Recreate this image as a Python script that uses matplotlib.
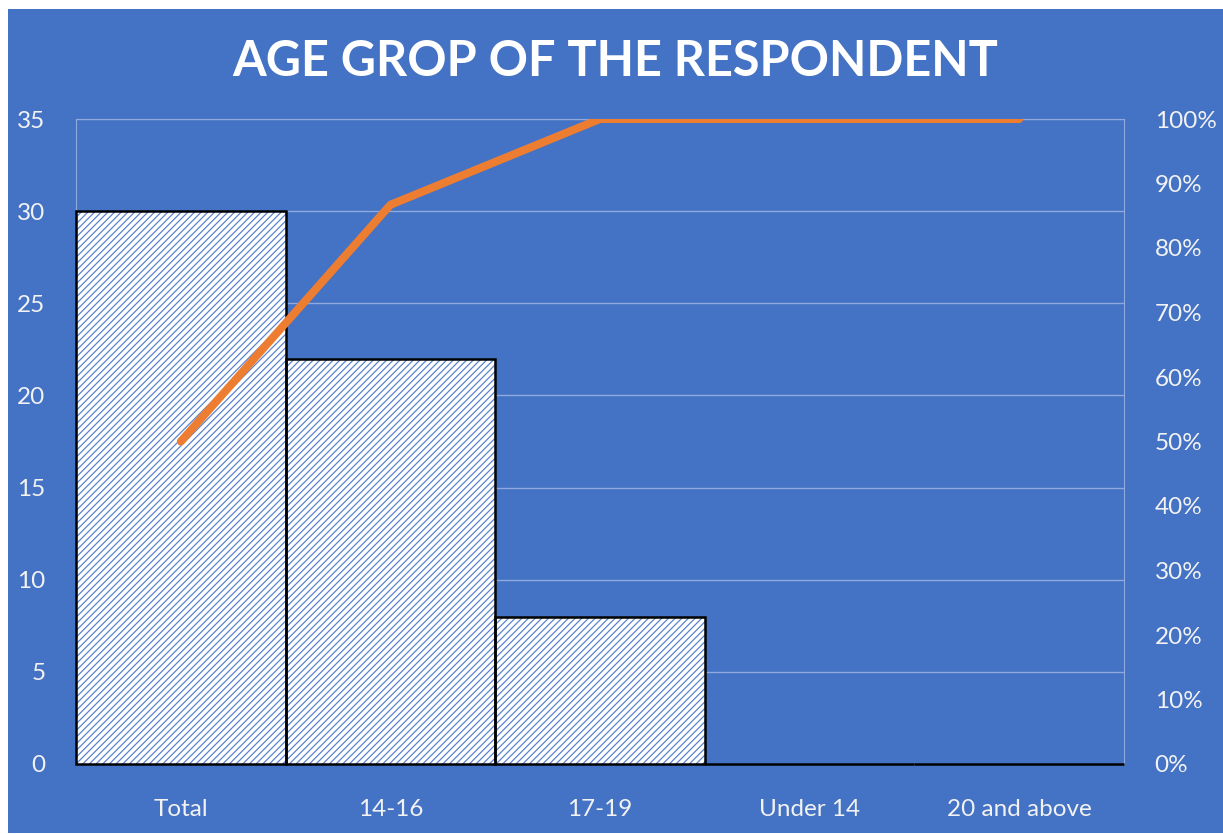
import matplotlib.pyplot as plt
from matplotlib.patches import Rectangle
from matplotlib.ticker import PercentFormatter

# data
groups = ['Total', '14-16', '17-19', 'Under 14', '20 and above']
counts = [30, 22, 8, 0, 0]
cum_pct = [0.50, 0.867, 1.0, 1.0, 1.0]

bg = '#4472C4'
grid_c = '#8FAADC'
txt_c = '#F2F2F2'
plt.rcParams['font.family'] = ['Lato', 'DejaVu Sans']
plt.rcParams['hatch.linewidth'] = 0.9

fig = plt.figure(figsize=(12.23, 8.34), dpi=100, facecolor='white')
# blue chart area, small white margin top/left
fig.patches.append(Rectangle((8 / 1223, 1 / 834), 1 - 8 / 1223, 1 - 10 / 834,
                             transform=fig.transFigure, facecolor=bg,
                             edgecolor='none', zorder=-10))

ax = fig.add_axes([76 / 1223, 70 / 834, 1048 / 1223, 645 / 834])
ax.set_facecolor(bg)
x = list(range(len(groups)))

ax.bar(x, counts, width=1.0, color='white', edgecolor='#5B84CE',
       hatch='/////', linewidth=0, zorder=2)
outline = ax.bar(x, counts, width=1.0, fill=False, edgecolor='black',
                 linewidth=1.8, zorder=3)
for b in outline:
  b.set_clip_on(False)  # keep the zero-height bars' bottom line whole

ax.set_xlim(-0.5, 4.5)
ax.set_ylim(0, 35)
ax.set_yticks(range(0, 36, 5))
ax.set_xticks(x)
ax.set_xticklabels(groups)
ax.set_axisbelow(True)
ax.yaxis.grid(True, color=grid_c, linewidth=1.0)
for s in ax.spines.values():
  s.set_color(grid_c)
  s.set_linewidth(0.8)
ax.tick_params(axis='both', length=0, colors=txt_c, labelsize=17.5)
ax.tick_params(axis='y', pad=22)
ax.tick_params(axis='x', pad=25)

ax2 = ax.twinx()
ax2.patch.set_visible(False)
ax2.plot(x, cum_pct, color='#ED7D31', linewidth=5.8, solid_capstyle='round',
         solid_joinstyle='round', zorder=5)
ax2.set_ylim(0, 1)
ax2.set_yticks([i / 10 for i in range(11)])
ax2.yaxis.set_major_formatter(PercentFormatter(1.0, decimals=0))
ax2.tick_params(axis='y', length=0, colors=txt_c, labelsize=17.5, pad=22)
for s in ax2.spines.values():
  s.set_visible(False)

fig.text(615 / 1223, 1 - 61 / 834, 'AGE GROP OF THE RESPONDENT',
         color='white', fontsize=35, fontweight='bold', ha='center',
         va='center')

fig.savefig('out.png', dpi=100, facecolor='white')
